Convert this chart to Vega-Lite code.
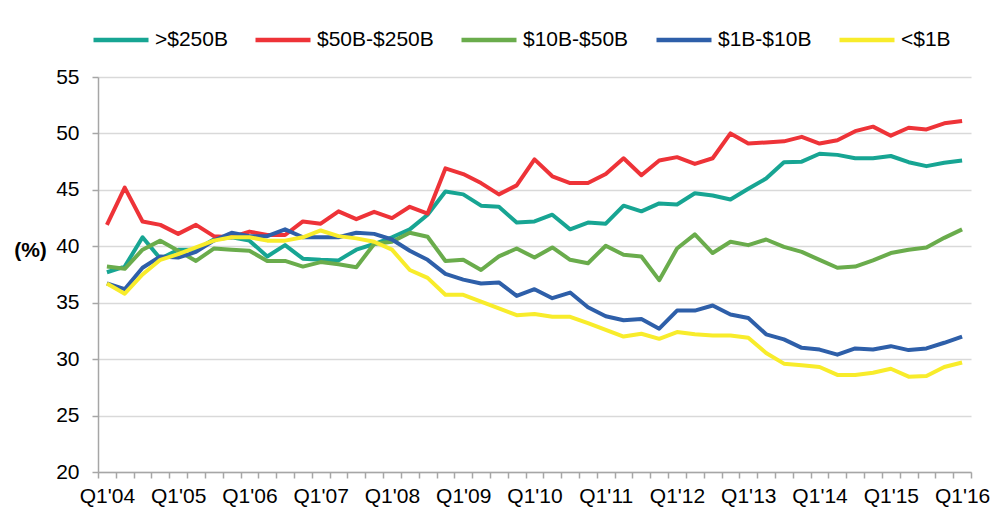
{
  "$schema": "https://vega.github.io/schema/vega-lite/v6.json",
  "width": 873,
  "height": 395,
  "autosize": "none",
  "padding": {"left": 98, "top": 77, "right": 26, "bottom": 42},
  "background": "white",
  "config": {
    "font": "Liberation Sans",
    "view": {"stroke": null},
    "axis": {"labelFont": "Liberation Sans", "titleFont": "Liberation Sans"}
  },
  "data": {
    "values": [
      {"q": "Q1'04", ">$250B": 37.7, "$50B-$250B": 41.9, "$10B-$50B": 38.2, "$1B-$10B": 36.7, "<$1B": 36.7},
      {"q": "Q2'04", ">$250B": 38.2, "$50B-$250B": 45.2, "$10B-$50B": 38.0, "$1B-$10B": 36.2, "<$1B": 35.8},
      {"q": "Q3'04", ">$250B": 40.8, "$50B-$250B": 42.2, "$10B-$50B": 39.7, "$1B-$10B": 38.1, "<$1B": 37.5},
      {"q": "Q4'04", ">$250B": 38.9, "$50B-$250B": 41.9, "$10B-$50B": 40.5, "$1B-$10B": 39.1, "<$1B": 38.8},
      {"q": "Q1'05", ">$250B": 39.7, "$50B-$250B": 41.1, "$10B-$50B": 39.6, "$1B-$10B": 39.0, "<$1B": 39.3},
      {"q": "Q2'05", ">$250B": 39.7, "$50B-$250B": 41.9, "$10B-$50B": 38.7, "$1B-$10B": 39.5, "<$1B": 39.9},
      {"q": "Q3'05", ">$250B": 40.6, "$50B-$250B": 40.9, "$10B-$50B": 39.8, "$1B-$10B": 40.5, "<$1B": 40.5},
      {"q": "Q4'05", ">$250B": 40.8, "$50B-$250B": 40.8, "$10B-$50B": 39.7, "$1B-$10B": 41.2, "<$1B": 40.8},
      {"q": "Q1'06", ">$250B": 40.5, "$50B-$250B": 41.3, "$10B-$50B": 39.6, "$1B-$10B": 40.9, "<$1B": 40.8},
      {"q": "Q2'06", ">$250B": 39.1, "$50B-$250B": 41.0, "$10B-$50B": 38.7, "$1B-$10B": 40.9, "<$1B": 40.5},
      {"q": "Q3'06", ">$250B": 40.1, "$50B-$250B": 41.0, "$10B-$50B": 38.7, "$1B-$10B": 41.5, "<$1B": 40.5},
      {"q": "Q4'06", ">$250B": 38.9, "$50B-$250B": 42.2, "$10B-$50B": 38.2, "$1B-$10B": 40.8, "<$1B": 40.8},
      {"q": "Q1'07", ">$250B": 38.8, "$50B-$250B": 42.0, "$10B-$50B": 38.6, "$1B-$10B": 40.8, "<$1B": 41.4},
      {"q": "Q2'07", ">$250B": 38.75, "$50B-$250B": 43.1, "$10B-$50B": 38.4, "$1B-$10B": 40.8, "<$1B": 40.9},
      {"q": "Q3'07", ">$250B": 39.7, "$50B-$250B": 42.4, "$10B-$50B": 38.15, "$1B-$10B": 41.2, "<$1B": 40.7},
      {"q": "Q4'07", ">$250B": 40.2, "$50B-$250B": 43.05, "$10B-$50B": 40.2, "$1B-$10B": 41.1, "<$1B": 40.4},
      {"q": "Q1'08", ">$250B": 40.8, "$50B-$250B": 42.5, "$10B-$50B": 40.4, "$1B-$10B": 40.6, "<$1B": 39.7},
      {"q": "Q2'08", ">$250B": 41.5, "$50B-$250B": 43.5, "$10B-$50B": 41.2, "$1B-$10B": 39.6, "<$1B": 37.9},
      {"q": "Q3'08", ">$250B": 42.8, "$50B-$250B": 42.9, "$10B-$50B": 40.85, "$1B-$10B": 38.8, "<$1B": 37.2},
      {"q": "Q4'08", ">$250B": 44.85, "$50B-$250B": 46.9, "$10B-$50B": 38.7, "$1B-$10B": 37.55, "<$1B": 35.7},
      {"q": "Q1'09", ">$250B": 44.6, "$50B-$250B": 46.4, "$10B-$50B": 38.8, "$1B-$10B": 37.05, "<$1B": 35.7},
      {"q": "Q2'09", ">$250B": 43.6, "$50B-$250B": 45.6, "$10B-$50B": 37.9, "$1B-$10B": 36.7, "<$1B": 35.1},
      {"q": "Q3'09", ">$250B": 43.5, "$50B-$250B": 44.6, "$10B-$50B": 39.1, "$1B-$10B": 36.8, "<$1B": 34.5},
      {"q": "Q4'09", ">$250B": 42.1, "$50B-$250B": 45.4, "$10B-$50B": 39.8, "$1B-$10B": 35.6, "<$1B": 33.9},
      {"q": "Q1'10", ">$250B": 42.2, "$50B-$250B": 47.7, "$10B-$50B": 39.0, "$1B-$10B": 36.2, "<$1B": 34.0},
      {"q": "Q2'10", ">$250B": 42.8, "$50B-$250B": 46.2, "$10B-$50B": 39.9, "$1B-$10B": 35.4, "<$1B": 33.75},
      {"q": "Q3'10", ">$250B": 41.5, "$50B-$250B": 45.6, "$10B-$50B": 38.8, "$1B-$10B": 35.9, "<$1B": 33.75},
      {"q": "Q4'10", ">$250B": 42.1, "$50B-$250B": 45.6, "$10B-$50B": 38.5, "$1B-$10B": 34.6, "<$1B": 33.2},
      {"q": "Q1'11", ">$250B": 42.0, "$50B-$250B": 46.4, "$10B-$50B": 40.05, "$1B-$10B": 33.8, "<$1B": 32.6},
      {"q": "Q2'11", ">$250B": 43.6, "$50B-$250B": 47.8, "$10B-$50B": 39.25, "$1B-$10B": 33.45, "<$1B": 32.0},
      {"q": "Q3'11", ">$250B": 43.1, "$50B-$250B": 46.3, "$10B-$50B": 39.1, "$1B-$10B": 33.55, "<$1B": 32.25},
      {"q": "Q4'11", ">$250B": 43.8, "$50B-$250B": 47.6, "$10B-$50B": 37.0, "$1B-$10B": 32.7, "<$1B": 31.8},
      {"q": "Q1'12", ">$250B": 43.7, "$50B-$250B": 47.9, "$10B-$50B": 39.8, "$1B-$10B": 34.3, "<$1B": 32.4},
      {"q": "Q2'12", ">$250B": 44.7, "$50B-$250B": 47.3, "$10B-$50B": 41.05, "$1B-$10B": 34.3, "<$1B": 32.2},
      {"q": "Q3'12", ">$250B": 44.5, "$50B-$250B": 47.8, "$10B-$50B": 39.4, "$1B-$10B": 34.75, "<$1B": 32.1},
      {"q": "Q4'12", ">$250B": 44.15, "$50B-$250B": 50.0, "$10B-$50B": 40.4, "$1B-$10B": 33.95, "<$1B": 32.1},
      {"q": "Q1'13", ">$250B": 45.1, "$50B-$250B": 49.1, "$10B-$50B": 40.1, "$1B-$10B": 33.65, "<$1B": 31.9},
      {"q": "Q2'13", ">$250B": 46.0, "$50B-$250B": 49.2, "$10B-$50B": 40.6, "$1B-$10B": 32.2, "<$1B": 30.55},
      {"q": "Q3'13", ">$250B": 47.45, "$50B-$250B": 49.3, "$10B-$50B": 39.95, "$1B-$10B": 31.75, "<$1B": 29.6},
      {"q": "Q4'13", ">$250B": 47.5, "$50B-$250B": 49.7, "$10B-$50B": 39.5, "$1B-$10B": 31.0, "<$1B": 29.45},
      {"q": "Q1'14", ">$250B": 48.2, "$50B-$250B": 49.1, "$10B-$50B": 38.8, "$1B-$10B": 30.85, "<$1B": 29.3},
      {"q": "Q2'14", ">$250B": 48.1, "$50B-$250B": 49.4, "$10B-$50B": 38.1, "$1B-$10B": 30.4, "<$1B": 28.6},
      {"q": "Q3'14", ">$250B": 47.8, "$50B-$250B": 50.2, "$10B-$50B": 38.2, "$1B-$10B": 30.95, "<$1B": 28.6},
      {"q": "Q4'14", ">$250B": 47.8, "$50B-$250B": 50.6, "$10B-$50B": 38.75, "$1B-$10B": 30.85, "<$1B": 28.8},
      {"q": "Q1'15", ">$250B": 48.0, "$50B-$250B": 49.8, "$10B-$50B": 39.4, "$1B-$10B": 31.15, "<$1B": 29.15},
      {"q": "Q2'15", ">$250B": 47.45, "$50B-$250B": 50.5, "$10B-$50B": 39.7, "$1B-$10B": 30.8, "<$1B": 28.45},
      {"q": "Q3'15", ">$250B": 47.1, "$50B-$250B": 50.35, "$10B-$50B": 39.9, "$1B-$10B": 30.95, "<$1B": 28.5},
      {"q": "Q4'15", ">$250B": 47.4, "$50B-$250B": 50.9, "$10B-$50B": 40.75, "$1B-$10B": 31.45, "<$1B": 29.3},
      {"q": "Q1'16", ">$250B": 47.6, "$50B-$250B": 51.1, "$10B-$50B": 41.5, "$1B-$10B": 32.0, "<$1B": 29.7}
    ]
  },
  "transform": [
    {"fold": [">$250B", "$50B-$250B", "$10B-$50B", "$1B-$10B", "<$1B"], "as": ["series", "value"]}
  ],
  "mark": {"type": "line", "strokeWidth": 4, "strokeJoin": "round"},
  "encoding": {
    "x": {
      "field": "q",
      "type": "ordinal",
      "sort": null,
      "bandPosition": 0.5,
      "scale": {"type": "band", "paddingInner": 0, "paddingOuter": 0},
      "axis": {
        "title": null,
        "tickBand": "extent",
        "labelExpr": "isString(datum.value) && indexof(datum.value, 'Q1') == 0 ? datum.value : ''",
        "labelOverlap": false,
        "labelAngle": 0,
        "labelFontSize": 21,
        "labelColor": "#000000",
        "labelPadding": 7,
        "domainColor": "#a6a6a6",
        "domainWidth": 1.5,
        "tickColor": "#a6a6a6",
        "tickWidth": 1.5,
        "tickSize": 6,
        "grid": false
      }
    },
    "y": {
      "field": "value",
      "type": "quantitative",
      "scale": {"domain": [20, 55], "nice": false, "zero": false},
      "axis": {
        "values": [20, 25, 30, 35, 40, 45, 50, 55],
        "title": "(%)",
        "titleAngle": 0,
        "titleFontSize": 21,
        "titleFontWeight": "bold",
        "titleColor": "#000000",
        "titleX": -68,
        "titleY": 173,
        "titleAlign": "center",
        "titleBaseline": "middle",
        "labelFontSize": 21,
        "labelColor": "#000000",
        "labelPadding": 13,
        "domainColor": "#a6a6a6",
        "domainWidth": 1.5,
        "tickColor": "#a6a6a6",
        "tickWidth": 1.5,
        "tickSize": 6,
        "grid": true,
        "gridColor": "#d9d9d9",
        "gridWidth": 1.5
      }
    },
    "color": {
      "field": "series",
      "type": "nominal",
      "sort": null,
      "scale": {
        "domain": [">$250B", "$50B-$250B", "$10B-$50B", "$1B-$10B", "<$1B"],
        "range": ["#17a593", "#ee3338", "#6aac4c", "#2e5fa9", "#f8ec2b"]
      },
      "legend": {
        "title": null,
        "orient": "none",
        "direction": "horizontal",
        "legendX": -7,
        "legendY": -67,
        "symbolType": "stroke",
        "symbolSize": 3025,
        "symbolStrokeWidth": 4.5,
        "labelFontSize": 21,
        "labelColor": "#000000",
        "labelOffset": 4,
        "columnPadding": 18,
        "padding": 0
      }
    }
  }
}
